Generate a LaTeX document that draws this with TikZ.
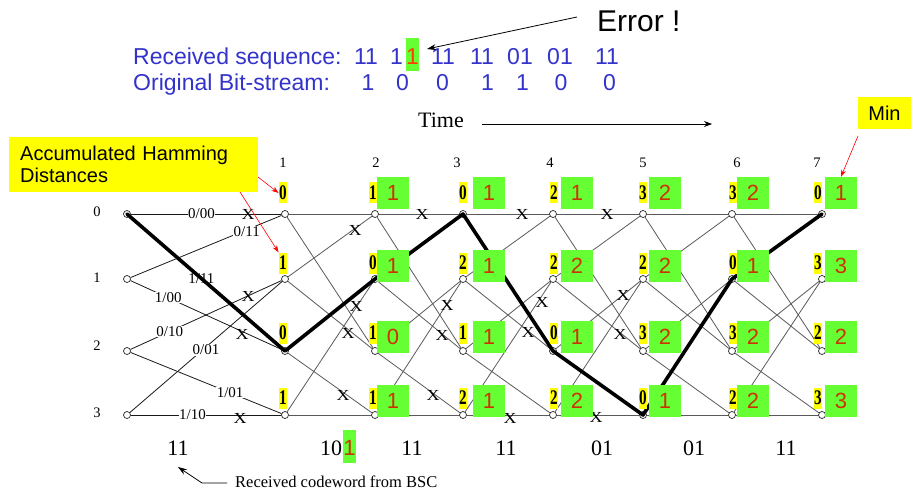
\documentclass[tikz,border=0pt]{standalone}
\usepackage{fontspec}
\usepackage{graphicx}
\setmainfont{Liberation Serif}
\newfontfamily\arialf{Liberation Sans}
\usetikzlibrary{arrows.meta,calc}
\definecolor{blueT}{RGB}{51,51,204}
\definecolor{greenB}{RGB}{102,255,51}
\definecolor{redT}{RGB}{204,51,0}
\definecolor{errR}{RGB}{255,60,0}
\definecolor{yelB}{RGB}{255,255,0}
\definecolor{lineG}{RGB}{90,90,90}
\newcommand{\ydig}[1]{\scalebox{0.95}[1.3]{#1}}
\newcommand{\xsq}{\scalebox{1}[0.85]{X}}
\begin{document}
\begin{tikzpicture}[x=1pt,y=-1pt,
  st/.style={circle,draw=black!85,fill=white,inner sep=0pt,minimum size=7pt,line width=0.7pt},
  edgefirst/.style={draw=black!90,line width=0.8pt},
  edgeg/.style={draw=lineG,line width=0.8pt},
  surv/.style={line width=3.6pt,black,line cap=round,line join=round},
  lbl/.style={font=\fontsize{15}{15}\selectfont,fill=white,inner sep=0.6pt},
  lblnf/.style={font=\fontsize{15}{15}\selectfont,inner sep=0.6pt},
  xmk/.style={font=\fontsize{18}{18}\selectfont,inner sep=0pt},
  ylab/.style={fill=yelB,inner sep=0pt,minimum width=8.5pt,minimum height=21pt,font=\fontsize{16}{16}\selectfont\bfseries},
  gbox/.style={fill=greenB,inner sep=0pt,minimum width=32pt,minimum height=32pt,text=redT,font=\arialf\fontsize{22}{22}\selectfont},
  blu/.style={text=blueT,font=\arialf\fontsize{23}{23}\selectfont,inner sep=0pt,anchor=base},
  tnum/.style={font=\fontsize{14.5}{14.5}\selectfont,inner sep=0pt},
  cw/.style={font=\fontsize{22}{22}\selectfont,inner sep=0pt,anchor=base},
  redarr/.style={draw=red,line width=0.6pt,-{Stealth[length=7pt,width=5pt]}},
  blkarr/.style={draw=black,line width=0.8pt,-{Stealth[length=9pt,width=6pt]}},
]
\fill[white] (0,0) rectangle (911,492);
\useasboundingbox (0,0) rectangle (911,492);

% ---------- header texts ----------
\node[blu,anchor=base west] (rs) at (133,65) {Received sequence:};
\node[blu] (r1) at (366,65) {11};
\node[blu] (r2) at (396.5,65) {1};
\node[anchor=base,fill=greenB,inner sep=0pt,minimum width=13pt,text height=27pt,text depth=6pt,text=errR,font=\arialf\fontsize{23}{23}\selectfont] (errb) at (412.5,65) {1};
\node[blu] (r3) at (443,65) {11};
\node[blu] (r4) at (482,65) {11};
\node[blu] (r5) at (520,65) {01};
\node[blu] (r6) at (560,65) {01};
\node[blu] (r7) at (607,65) {11};

\node[blu,anchor=base west] (ob) at (133,91) {Original Bit-stream:};
\node[blu] (o1) at (368,91) {1};
\node[blu] (o2) at (402.5,91) {0};
\node[blu] (o3) at (442.5,91) {0};
\node[blu] (o4) at (487.5,91) {1};
\node[blu] (o5) at (522.5,91) {1};
\node[blu] (o6) at (561,91) {0};
\node[blu] (o7) at (609.5,91) {0};

\node[anchor=base west,font=\arialf\fontsize{30}{30}\selectfont,inner sep=0pt] (errt) at (597,32) {Error !};
\coordinate (ea) at (577,17);
\coordinate (eb) at (427,49);
\draw[blkarr] (ea) -- (eb);

\node[anchor=base west,font=\fontsize{22}{22}\selectfont,inner sep=0pt] (time) at (418,128) {Time};
\coordinate (ta) at (482,124);
\coordinate (tb) at (712,124);
\draw[draw=black,line width=0.8pt,-{Stealth[length=8pt,width=6pt]}] (ta) -- (tb);

\node[anchor=north west,fill=yelB,inner xsep=11pt,inner ysep=0pt,text width=227pt,minimum height=55pt,align=left,font=\arialf\fontsize{20}{22}\selectfont] (ahd) at (9,137) {Accumulated Hamming\\Distances};
\node[fill=yelB,inner sep=0pt,minimum width=53pt,minimum height=32pt,font=\arialf\fontsize{20}{20}\selectfont] (minb) at (884.5,113) {Min};

% ---------- time and state labels ----------
\foreach \t/\x in {1/283,2/376,3/457,4/550,5/643,6/737,7/817}{
  \node[tnum] (tt\t) at (\x,163) {\t};
}
\foreach \s/\y in {0/212,1/278,2/346,3/413}{
  \node[tnum] (sl\s) at (97,\y) {\s};
}

% ---------- state nodes ----------
\foreach \t/\x in {0/127,1/285,2/375,3/463,4/553,5/643,6/732,7/822}{
  \foreach \s/\y in {0/214,1/279,2/351,3/415}{
    \node[st] (n\t-\s) at (\x,\y) {};
  }
}

% ---------- trellis branches ----------
\foreach \t in {1,...,6}{
  \pgfmathtruncatemacro{\u}{\t+1}
  \foreach \a/\b in {0/0,0/2,1/0,1/2,2/1,2/3,3/1,3/3}{
    \draw[edgeg] (n\t-\a) -- (n\u-\b);
  }
}
\draw[edgefirst] (n0-0) -- node[lbl,pos=0.47]{0/00} (n1-0);
\draw[edgefirst] (n0-1) -- node[lbl,pos=0.77,yshift=-2pt]{0/11} (n1-0);
\draw[edgefirst] (n0-1) -- node[lbl,pos=0.25]{1/00} (n1-2);
\draw[edgefirst] (n0-2) -- node[lbl,pos=0.26]{0/10} (n1-1);
\draw[edgefirst] (n0-3) -- node[lbl,pos=0.50,yshift=-3pt]{0/01} (n1-1);
\draw[edgefirst] (n0-2) -- node[lbl,pos=0.66]{1/01} (n1-3);
\draw[edgefirst] (n0-3) -- node[lbl,pos=0.41]{1/10} (n1-3);

% ---------- discarded branch marks ----------
\foreach \x/\y in {248/214,248/296,242/334,240/418,
                   355/230,356/306,348/333,343/395,
                   422/214,447/305,442/335,433/395,
                   522/214,542/302,528/332,510/418,
                   607/214,623/295,620/334,596/417}{
  \node[xmk] at (\x,\y) {\xsq};
}

% ---------- survivor path ----------
\draw[surv] (n0-0.center) -- (n1-2.center) -- (n2-1.center) -- (n3-0.center)
  -- (n4-2.center) -- (n5-3.center) -- (n6-1.center) -- (n7-0.center);
\path (n0-0) -- node[lblnf,pos=0.47]{1/11} (n1-2);

% ---------- accumulated metrics ----------
\foreach \t/\x/\va/\vb/\vc/\vd in {1/283/0/1/0/1,2/373/1/0/1/1,3/463/0/2/1/2,
    4/554/2/2/0/2,5/643/3/2/3/0,6/733/3/0/3/2,7/818/0/3/2/3}{
  \node[ylab] (y\t-0) at (\x,193) {\ydig{\va}};
  \node[ylab] (y\t-1) at (\x,263) {\ydig{\vb}};
  \node[ylab] (y\t-2) at (\x,333) {\ydig{\vc}};
  \node[ylab] (y\t-3) at (\x,398) {\ydig{\vd}};
}
\foreach \t/\x/\va/\vb/\vc/\vd in {2/393/1/1/0/1,3/489/1/1/1/1,4/577/1/2/1/2,
    5/665/2/2/2/1,6/753/2/1/2/2,7/841/1/3/2/3}{
  \node[gbox] (g\t-0) at (\x,193) {\va};
  \node[gbox] (g\t-1) at (\x,265.5) {\vb};
  \node[gbox] (g\t-2) at (\x,337) {\vc};
  \node[gbox] (g\t-3) at (\x,401) {\vd};
}

% ---------- red pointers ----------
\coordinate (ha) at (258,177);
\coordinate (hb) at (240,192);
\draw[redarr] (ha) -- (y1-0.west);
\draw[redarr] (hb) -- (y1-1.north west);
\coordinate (ma) at (858,136);
\draw[redarr] (ma) -- (g7-0.north);

% ---------- received codewords ----------
\node[cw] (c1) at (178,455) {11};
\node[cw] (c2) at (331,455) {10};
\node[anchor=base,fill=greenB,inner sep=0pt,minimum width=13pt,text height=25pt,text depth=8pt,text=redT,font=\arialf\fontsize{22}{22}\selectfont] (c2e) at (349.5,455) {1};
\node[cw] (c3) at (412,455) {11};
\node[cw] (c4) at (506,455) {11};
\node[cw] (c5) at (602,455) {01};
\node[cw] (c6) at (694,455) {01};
\node[cw] (c7) at (786,455) {11};

\node[anchor=base west,font=\fontsize{16.5}{16.5}\selectfont,inner sep=0pt] (bsc) at (235,487) {Received codeword from BSC};
\coordinate (ba) at (227,483);
\coordinate (bb) at (202,483);
\coordinate (bc) at (178,467);
\draw[blkarr] (ba) -- (bb) -- (bc);
\end{tikzpicture}
\end{document}
